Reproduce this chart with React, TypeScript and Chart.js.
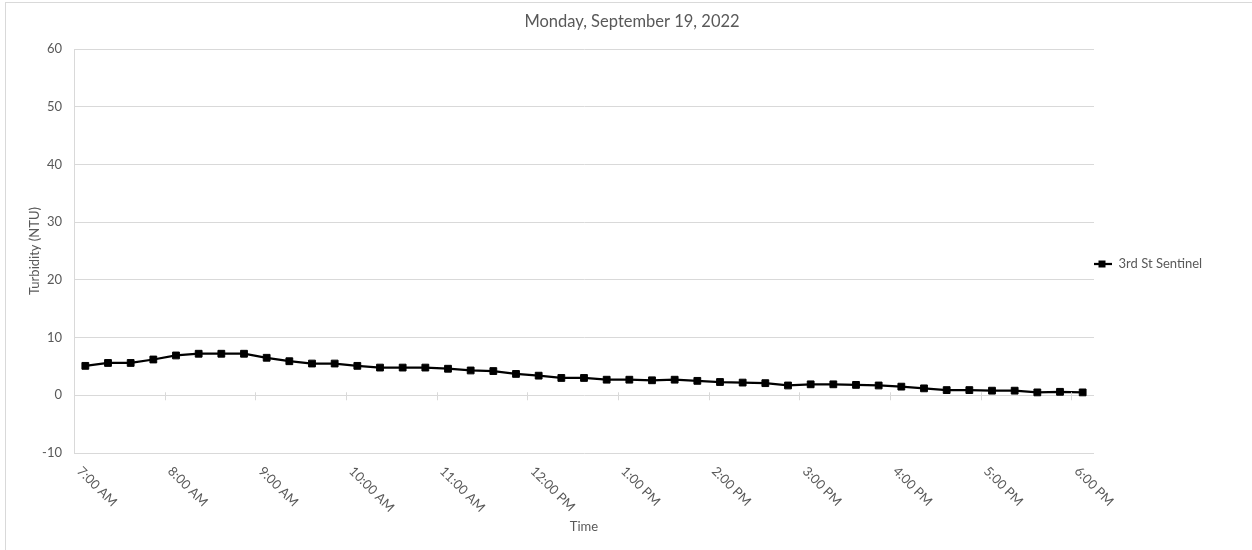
import { useEffect, useRef } from 'react';
import { Chart, registerables } from 'chart.js';

Chart.register(...registerables);

const CHART_TITLE = 'Monday, September 19, 2022';
const SERIES_NAME = '3rd St Sentinel';
const X_TITLE = 'Time';
const Y_TITLE = 'Turbidity (NTU)';

const TIME_LABELS = [
  '7:00 AM', '7:15 AM', '7:30 AM', '7:45 AM',
  '8:00 AM', '8:15 AM', '8:30 AM', '8:45 AM',
  '9:00 AM', '9:15 AM', '9:30 AM', '9:45 AM',
  '10:00 AM', '10:15 AM', '10:30 AM', '10:45 AM',
  '11:00 AM', '11:15 AM', '11:30 AM', '11:45 AM',
  '12:00 PM', '12:15 PM', '12:30 PM', '12:45 PM',
  '1:00 PM', '1:15 PM', '1:30 PM', '1:45 PM',
  '2:00 PM', '2:15 PM', '2:30 PM', '2:45 PM',
  '3:00 PM', '3:15 PM', '3:30 PM', '3:45 PM',
  '4:00 PM', '4:15 PM', '4:30 PM', '4:45 PM',
  '5:00 PM', '5:15 PM', '5:30 PM', '5:45 PM',
  '6:00 PM',
];

const TURBIDITY = [
  5.1, 5.6, 5.6, 6.2, 6.9, 7.2, 7.2, 7.2,
  6.5, 5.9, 5.5, 5.5, 5.1, 4.8, 4.8, 4.8,
  4.6, 4.3, 4.2, 3.7, 3.4, 3.0, 3.0, 2.7,
  2.7, 2.6, 2.7, 2.5, 2.3, 2.2, 2.1, 1.7,
  1.9, 1.9, 1.8, 1.7, 1.5, 1.2, 0.9, 0.9,
  0.8, 0.8, 0.5, 0.6, 0.5,
];

const Y_MIN = -10;
const Y_MAX = 60;
const Y_STEP = 10;
const LABEL_EVERY = 4;

const FONT = 'Lato';
const TEXT_COLOR = '#595959';
const GRID_COLOR = '#d9d9d9';
const W = 1252;
const H = 550;

const PLOT_LEFT = 74;
const PLOT_RIGHT = 1094;
const TITLE_CENTER_X = 632;
const Y_TITLE_X = 35;
// negative right padding widens the title box so it centres on TITLE_CENTER_X
const PAD_RIGHT = W - 2 * TITLE_CENTER_X;

const LEG_PAD = -2;
const LEG_BOX = 20;
const LEG_FONT = 13;

function makeLegendSymbol(): HTMLCanvasElement {
  const c = document.createElement('canvas');
  c.width = LEG_BOX;
  c.height = 10;
  const g = c.getContext('2d')!;
  g.strokeStyle = '#000';
  g.lineWidth = 2.25;
  g.beginPath();
  g.moveTo(0, 5);
  g.lineTo(LEG_BOX, 5);
  g.stroke();
  g.fillStyle = '#000';
  g.fillRect(LEG_BOX / 2 - 3.5, 1.5, 7, 7);
  return c;
}

const decorPlugin = {
  id: 'decor',
  beforeLayout(chart: any) {
    const lg = chart.legend;
    if (lg && !lg.__fixedWidth) {
      const orig = lg.fit.bind(lg);
      lg.fit = function () {
        orig();
        this.width = W - PAD_RIGHT - PLOT_RIGHT;
      };
      lg.__fixedWidth = true;
    }
  },
  beforeDraw(chart: any) {
    const ctx = chart.ctx;
    ctx.save();
    ctx.strokeStyle = GRID_COLOR;
    ctx.lineWidth = 1;
    ctx.strokeRect(5.5, 2.5, chart.width + 20, chart.height + 20);
    ctx.restore();
  },
  afterDraw(chart: any) {
    const ctx = chart.ctx;
    const xs = chart.scales.x;
    const ys = chart.scales.y;
    const y0 = ys.getPixelForValue(0);
    const step = xs.getPixelForValue(1) - xs.getPixelForValue(0);
    ctx.save();
    ctx.strokeStyle = GRID_COLOR;
    ctx.lineWidth = 1;
    for (let i = 0; i < TIME_LABELS.length; i += LABEL_EVERY) {
      const px = Math.round(xs.getPixelForValue(i) - step / 2) + 0.5;
      ctx.beginPath();
      ctx.moveTo(px, y0 - 3);
      ctx.lineTo(px, y0 + 5);
      ctx.stroke();
    }
    ctx.fillStyle = TEXT_COLOR;
    ctx.font = `13px ${FONT}`;
    ctx.textAlign = 'left';
    ctx.textBaseline = 'middle';
    const bottom = chart.chartArea.bottom;
    for (let i = 0; i < TIME_LABELS.length; i += LABEL_EVERY) {
      const px = xs.getPixelForValue(i);
      ctx.save();
      ctx.translate(px - 6, bottom + 16);
      ctx.rotate(Math.PI / 4);
      ctx.fillText(TIME_LABELS[i], 0, 0);
      ctx.restore();
    }
    ctx.restore();
  },
};

export default function App() {
  const ref = useRef<HTMLCanvasElement>(null);

  useEffect(() => {
    const canvas = ref.current!;
    const yTitleLine = 13 * 1.2;

    const chart = new Chart(canvas, {
      type: 'line',
      data: {
        labels: TIME_LABELS,
        datasets: [
          {
            label: SERIES_NAME,
            data: TURBIDITY,
            borderColor: '#000',
            backgroundColor: '#000',
            borderWidth: 2.25,
            tension: 0,
            pointStyle: 'rect',
            pointRadius: 4.8,
            pointBorderWidth: 1,
            pointBackgroundColor: '#000',
            pointBorderColor: '#000',
          },
        ],
      },
      options: {
        animation: false,
        responsive: false,
        devicePixelRatio: 1,
        layout: { padding: { top: 0, left: 0, right: PAD_RIGHT, bottom: 0 } },
        plugins: {
          title: {
            display: true,
            text: CHART_TITLE,
            color: TEXT_COLOR,
            font: { family: FONT, size: 16.5, weight: 'normal' },
            padding: { top: 12, bottom: 17.2 },
          },
          legend: {
            position: 'right',
            fullSize: false,
            align: 'center',
            title: { display: true, text: ' ', font: { size: 10 }, padding: { top: 7, bottom: 7 } },
            labels: {
              usePointStyle: true,
              pointStyle: makeLegendSymbol(),
              pointStyleWidth: LEG_BOX,
              padding: LEG_PAD,
              color: TEXT_COLOR,
              font: { family: FONT, size: LEG_FONT },
            },
          },
          tooltip: { enabled: false },
        },
        scales: {
          x: {
            type: 'category',
            offset: true,
            grid: { display: false, drawTicks: false },
            border: { display: false },
            ticks: { display: false },
            title: {
              display: true,
              text: X_TITLE,
              color: TEXT_COLOR,
              font: { family: FONT, size: 13 },
              padding: { top: 0, bottom: 15.2 },
            },
            afterFit: (s: any) => {
              s.height = 97;
            },
          },
          y: {
            min: Y_MIN,
            max: Y_MAX,
            ticks: {
              stepSize: Y_STEP,
              color: TEXT_COLOR,
              font: { family: FONT, size: 13 },
              padding: 12,
            },
            grid: { color: GRID_COLOR, drawTicks: false, lineWidth: 1 },
            border: { display: true, color: GRID_COLOR },
            title: {
              display: true,
              text: Y_TITLE,
              color: TEXT_COLOR,
              font: { family: FONT, size: 13 },
              padding: { top: Y_TITLE_X - yTitleLine / 2, bottom: 0 },
            },
            afterFit: (s: any) => {
              s.width = PLOT_LEFT;
            },
          },
        },
      },
      plugins: [decorPlugin],
    } as any);

    return () => chart.destroy();
  }, []);

  return (
    <div style={{ position: 'absolute', left: 0, top: 0, width: W, height: H, background: '#fff' }}>
      <canvas ref={ref} width={W} height={H} style={{ display: 'block', width: W, height: H }} />
    </div>
  );
}
